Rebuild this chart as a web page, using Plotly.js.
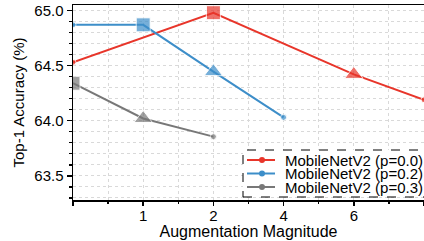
<!DOCTYPE html>
<html><head><meta charset="utf-8">
<script src="https://cdn.plot.ly/plotly-3.0.1.min.js"></script>
<style>html,body{margin:0;padding:0;background:#fff}#c{width:424px;height:241px}</style>
</head><body><div id="c"></div>
<script>
// magnitude categories placed at equal spacing
const magnitudeLabels = ['0','1','2','4','6','8'];
const magnitudePos = [0,1,2,3,4,5];

const seriesNames = ['MobileNetV2 (p=0.0)','MobileNetV2 (p=0.2)','MobileNetV2 (p=0.3)'];
const colors = ['#e8352a','#3d8ec9','#787878'];

const red_x = ['0','2','6','8'];
const red_y = [64.53, 64.98, 64.42, 64.19];
const red_sym = ['circle','square','triangle-up','circle'];

const blue_x = ['0','1','2','4'];
const blue_y = [64.87, 64.87, 64.445, 64.03];
const blue_sym = ['circle','square','triangle-up','circle'];

const gray_x = ['0','1','2'];
const gray_y = [64.34, 64.02, 63.855];
const gray_sym = ['square','triangle-up','circle'];

const yTicks = [63.5, 64.0, 64.5, 65.0];

function pos(labels){ return labels.map(l => magnitudePos[magnitudeLabels.indexOf(l)]); }
function sizes(sym){ return sym.map(s => s==='circle' ? 6 : (s==='square' ? 14 : 16)); }

const xs = [red_x, blue_x, gray_x], ys = [red_y, blue_y, gray_y], syms = [red_sym, blue_sym, gray_sym];
const data = [];
for (let i=0;i<3;i++){
  data.push({x: pos(xs[i]), y: ys[i], mode:'lines+markers', showlegend:false,
    line:{color:colors[i], width:2},
    marker:{color:colors[i], symbol:syms[i], size:sizes(syms[i])}});
}

const W = 424, H = 241, M = {l:73, r:0, t:5, b:41};
const PW = W - M.l - M.r, PH = H - M.t - M.b;
const px = x => (x - M.l) / PW;          // page pixel -> paper x
const py = y => (H - M.b - y) / PH;      // page pixel -> paper y

const font = {family:'Liberation Sans, Arial, sans-serif', size:15, color:'#000'};

// custom legend (dashed frame like the reference)
const legBox = {x0:243, x1:460, y0:150, y1:197};
const rowY = [160, 173.5, 187];
const shapes = [{type:'rect', xref:'paper', yref:'paper', x0:px(legBox.x0), x1:px(legBox.x1), y0:py(legBox.y1), y1:py(legBox.y0),
    line:{color:'#000', width:1, dash:'dash'}, fillcolor:'#fff', layer:'above'}];
const annotations = [];
for (let i=0;i<3;i++){
  shapes.push({type:'line', xref:'paper', yref:'paper', x0:px(247), x1:px(275), y0:py(rowY[i]), y1:py(rowY[i]),
    line:{color:colors[i], width:2}, layer:'above'});
  shapes.push({type:'circle', xref:'paper', yref:'paper', x0:px(259), x1:px(265), y0:py(rowY[i]+3), y1:py(rowY[i]-3),
    line:{color:colors[i], width:0}, fillcolor:colors[i], layer:'above'});
  annotations.push({xref:'paper', yref:'paper', x:px(284), y:py(rowY[i]), xanchor:'left', yanchor:'middle',
    text:seriesNames[i], showarrow:false, font:font, borderpad:0});
}

const layout = {
  width:W, height:H,
  margin:M,
  paper_bgcolor:'#fff', plot_bgcolor:'#fff',
  font: font,
  showlegend:false,
  xaxis:{range:[0,5], tickvals:magnitudePos, ticktext:magnitudeLabels.map((l,i)=> i===0?'':l),
    ticks:'outside', ticklen:4, tickwidth:1.5, tickcolor:'#000', ticklabelstandoff:-3,
    showline:true, linecolor:'#000', linewidth:1.5, mirror:true, zeroline:false,
    showgrid:true, gridcolor:'#d9d9d9', griddash:'dot', gridwidth:1,
    minor:{dtick:0.5, tick0:0, ticks:'outside', ticklen:2, tickcolor:'#000', showgrid:true, gridcolor:'#d9d9d9', griddash:'dot'},
    title:{text:'Augmentation Magnitude', font:Object.assign({}, font, {size:16}), standoff:0}, tickfont:font},
  yaxis:{range:[63.28, 65.05], tickvals:yTicks, ticktext:yTicks.map(v=>v.toFixed(1)),
    ticks:'outside', ticklen:5, tickwidth:1.5, tickcolor:'#000',
    showline:true, linecolor:'#000', linewidth:1.5, mirror:true, zeroline:false,
    showgrid:true, gridcolor:'#d9d9d9', griddash:'dot', gridwidth:1,
    minor:{dtick:0.1, tick0:63.5, ticks:'outside', ticklen:3, tickcolor:'#000', showgrid:true, gridcolor:'#d9d9d9', griddash:'dot'},
    title:{text:'Top-1 Accuracy (%)', font:font, standoff:6}, tickfont:font},
  shapes: shapes,
  annotations: annotations
};
Plotly.newPlot('c', data, layout, {staticPlot:true, displayModeBar:false});
</script></body></html>
